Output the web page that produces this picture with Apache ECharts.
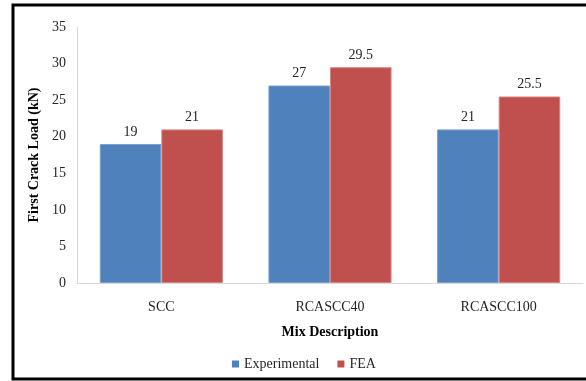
<!DOCTYPE html>
<html>
<head>
<meta charset="utf-8">
<script src="https://cdn.jsdelivr.net/npm/echarts@6/dist/echarts.min.js"></script>
<style>
  html, body { margin: 0; padding: 0; background: #fff; }
  #chart { width: 586px; height: 381px; }
</style>
</head>
<body>
<div id="chart"></div>
<script>
const categories = ['SCC', 'RCASCC40', 'RCASCC100'];
const experimental = [19, 27, 21];
const fea = [21, 29.5, 25.5];
const yTicks = { min: 0, max: 35, interval: 5 };

const serif = '"Liberation Serif", "Times New Roman", serif';
const chart = echarts.init(document.getElementById('chart'), null, { renderer: 'canvas' });

const labelStyle = {
  show: true,
  position: 'top',
  distance: 5,
  fontFamily: serif,
  fontSize: 14,
  color: '#262626'
};

chart.setOption({
  animation: false,
  backgroundColor: '#fff',
  graphic: [{
    type: 'rect',
    shape: { x: 13, y: 5, width: 620, height: 374 },
    style: { fill: 'none', stroke: '#000', lineWidth: 3 },
    silent: true,
    z: 100
  }],
  grid: { left: 77, right: 3, top: 27, bottom: 98 },
  legend: {
    bottom: 5,
    left: 227,
    itemWidth: 7,
    itemHeight: 7,
    itemGap: 18,
    icon: 'rect',
    itemStyle: { borderWidth: 0 },
    textStyle: { fontFamily: serif, fontSize: 14, color: '#262626' },
    data: ['Experimental', 'FEA']
  },
  xAxis: {
    type: 'category',
    data: categories,
    name: 'Mix Description',
    nameLocation: 'middle',
    nameGap: 42,
    nameTextStyle: { fontFamily: serif, fontSize: 14, fontWeight: 'bold', color: '#000' },
    axisLine: { lineStyle: { color: '#D9D9D9', width: 1 } },
    axisTick: { show: false },
    axisLabel: { fontFamily: serif, fontSize: 14, color: '#262626', margin: 17 }
  },
  yAxis: {
    type: 'value',
    min: yTicks.min,
    max: yTicks.max,
    interval: yTicks.interval,
    name: 'First Crack Load (kN)',
    nameLocation: 'middle',
    nameGap: 35,
    nameTextStyle: { fontFamily: serif, fontSize: 14, fontWeight: 'bold', color: '#000' },
    axisLine: { show: true, lineStyle: { color: '#D9D9D9', width: 1 } },
    axisTick: { show: false },
    splitLine: { show: false },
    axisLabel: { fontFamily: serif, fontSize: 14, color: '#262626', margin: 11 }
  },
  series: [
    {
      name: 'Experimental',
      type: 'bar',
      data: experimental,
      barGap: '0%',
      barCategoryGap: '27%',
      itemStyle: { color: '#4F81BD', borderColor: '#7BA0CD', borderWidth: 1 },
      label: labelStyle
    },
    {
      name: 'FEA',
      type: 'bar',
      data: fea,
      itemStyle: { color: '#C0504D', borderColor: '#D38583', borderWidth: 1 },
      label: labelStyle
    }
  ]
});
</script>
</body>
</html>
